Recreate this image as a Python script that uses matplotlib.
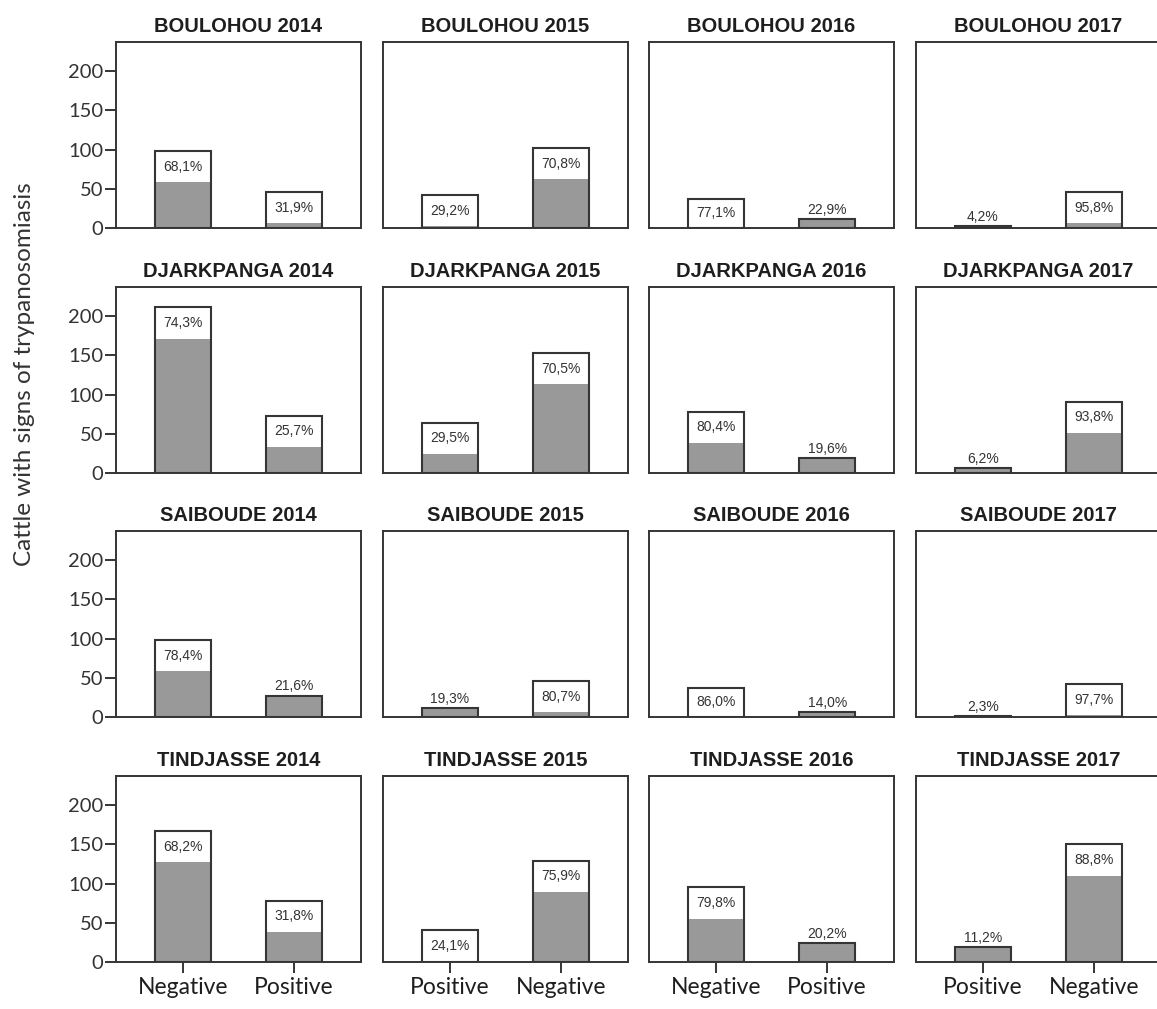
import numpy as np
import matplotlib
matplotlib.use("Agg")
import matplotlib.pyplot as plt

# herd counts by village and year (order of the bars as plotted)
villages = ["BOULOHOU", "DJARKPANGA", "SAIBOUDE", "TINDJASSE"]
years = [2014, 2015, 2016, 2017]
bar_order = [["Negative", "Positive"],
             ["Positive", "Negative"],
             ["Negative", "Positive"],
             ["Positive", "Negative"]]

boulohou = [[98, 46], [42, 102], [37, 11], [2, 46]]
djarkpanga = [[211, 73], [64, 153], [78, 19], [6, 91]]
saiboude = [[98, 27], [11, 46], [37, 6], [1, 42]]
tindjasse = [[167, 78], [41, 129], [95, 24], [19, 150]]
counts = [boulohou, djarkpanga, saiboude, tindjasse]

yticks = [0, 50, 100, 150, 200]
ylabel = "Cattle with signs of trypanosomiasis"

W, H = 1157, 1009
fig = plt.figure(figsize=(W / 100, H / 100), dpi=100)
fig.patch.set_facecolor("white")

col_left = [116, 383, 649, 916]
row_top = [42, 287, 531, 776]
ax_w, ax_h = 245, 186

edge = "#353535"
box_h = 40

for r, village in enumerate(villages):
    for c, year in enumerate(years):
        ax = fig.add_axes([col_left[c] / W, 1 - (row_top[r] + ax_h) / H,
                           ax_w / W, ax_h / H])
        vals = np.array(counts[r][c])
        pct = vals / vals.sum() * 100
        x = np.arange(2)

        ax.bar(x, vals, width=0.5, color="#999999", edgecolor="none", zorder=2)
        for xi, v, p in zip(x, vals, pct):
            lab = "{:.1f}%".format(p).replace(".", ",")
            if v >= 30:
                h = min(v, box_h)
                ax.bar(xi, h, bottom=v - h, width=0.5, color="white",
                       edgecolor="none", zorder=3)
                ax.text(xi, v - h / 2, lab, ha="center", va="center",
                        fontsize=10, color="#333333",
                        family="Liberation Sans", zorder=5)
            else:
                ax.text(xi, v + 3, lab, ha="center", va="bottom",
                        fontsize=10, color="#333333",
                        family="Liberation Sans", zorder=5)
        ax.bar(x, vals, width=0.5, fill=False, edgecolor=edge,
               linewidth=1.5, zorder=4)

        ax.set_xlim(-0.6, 1.6)
        ax.set_ylim(0, 237)
        for sp in ax.spines.values():
            sp.set_color(edge)
            sp.set_linewidth(1.4)

        ax.set_title("{} {}".format(village, year), fontsize=14.5,
                     fontweight="bold", family="Liberation Sans",
                     color="#1e1e1e", pad=7)

        if c == 0:
            ax.set_yticks(yticks)
            ax.tick_params(axis="y", length=8, width=1.4, color=edge,
                           labelsize=14.5, labelcolor="#333333", pad=1)
            for t in ax.get_yticklabels():
                t.set_family("Lato")
        else:
            ax.set_yticks([])

        if r == 3:
            ax.set_xticks(x)
            ax.set_xticklabels(bar_order[c], fontsize=16.5, family="Lato",
                               color="#1e1e1e")
            ax.tick_params(axis="x", length=8, width=1.4, color=edge, pad=3)
        else:
            ax.set_xticks([])

fig.text(25 / W, 1 - 374 / H, ylabel, rotation=90, ha="center", va="center",
         fontsize=17.5, family="Lato", color="#333333")

fig.savefig("out.png", dpi=100, facecolor="white")
